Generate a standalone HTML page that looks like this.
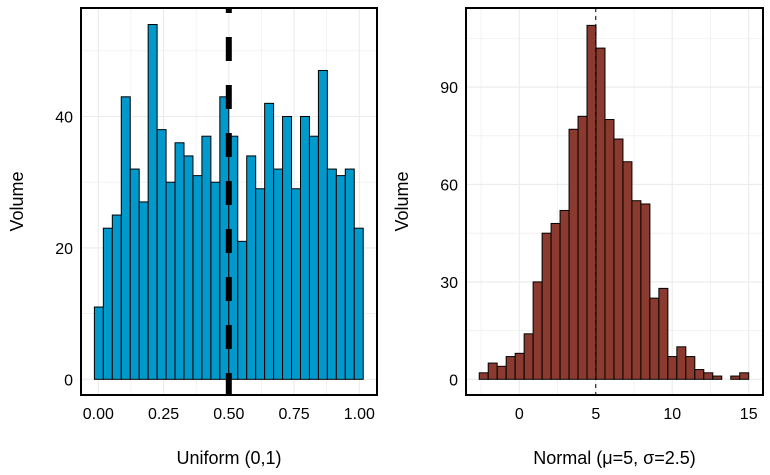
<!DOCTYPE html>
<html><head><meta charset="utf-8">
<style>
html,body{margin:0;padding:0;background:#fff;}
svg{display:block;font-family:"Liberation Sans",sans-serif;}
</style></head>
<body>
<svg id="c" width="770" height="475" viewBox="0 0 770 475"></svg>
<script>
const uniformCounts=[11,23,25,43,32,27,54,38,30,36,34,31,37,30,43,37,21,34,29,42,32,40,29,40,37,47,32,31,32,23];
const uniformRange=[-0.015,1.015];
const uniformXTicks=[0,0.25,0.5,0.75,1];
const uniformXLabels=["0.00","0.25","0.50","0.75","1.00"];
const uniformYTicks=[0,20,40];
const uniformMean=0.5;
const normalCounts=[2,5,4,7,8,14,30,45,48,52,77,81,109,102,80,74,67,55,54,25,28,7,10,7,3,2,1,0,1,2];
const normalRange=[-2.62,15.0];
const normalXTicks=[0,5,10,15];
const normalYTicks=[0,30,60,90];
const normalMean=5;

const NS="http://www.w3.org/2000/svg";
const svg=document.getElementById('c');
function el(tag,attrs,parent){const e=document.createElementNS(NS,tag);for(const k in attrs)e.setAttribute(k,attrs[k]);(parent||svg).appendChild(e);return e;}

function panel(o){
  const g=el('g',{});
  
  
  const xs=v=>o.x0px+(v-o.x0)/(o.x1-o.x0)*(o.x1px-o.x0px);
  const ys=v=>o.y0px-v*o.ypu;
  const minorX=[];for(let i=0;i<o.xTicks.length-1;i++)minorX.push((o.xTicks[i]+o.xTicks[i+1])/2);
  minorX.push(o.xTicks[0]-(o.xTicks[1]-o.xTicks[0])/2);
  minorX.push(o.xTicks[o.xTicks.length-1]+(o.xTicks[1]-o.xTicks[0])/2);
  const step=o.yTicks[1]-o.yTicks[0];
  const allY=[];for(let v=0;ys(v)>o.top;v+=step/2)allY.push(v);
  minorX.concat(o.xTicks).forEach(v=>{const x=xs(v);if(x>o.left&&x<o.right){const l=el('line',{x1:x,x2:x,y1:o.top,y2:o.bottom,stroke:'#ebebeb','stroke-width':minorX.includes(v)?0.6:1.1},g);}});
  allY.forEach(v=>{const y=ys(v);const l=el('line',{x1:o.left,x2:o.right,y1:y,y2:y,stroke:'#ebebeb','stroke-width':(v%step===0)?1.1:0.6},g);});
  const n=o.counts.length,bw=(o.range[1]-o.range[0])/n;
  o.counts.forEach((c,i)=>{
    const xa=xs(o.range[0]+i*bw),xb=xs(o.range[0]+(i+1)*bw);
    if(c<=0)return;
    const r=el('rect',{x:xa,y:ys(c),width:xb-xa,height:ys(0)-ys(c),fill:o.fill,stroke:'#000','stroke-width':1},g);
    
    
  });
  const mx=xs(o.mean);
  const ml=el('line',{x1:mx,x2:mx,y1:o.top,y2:o.bottom,stroke:'#000','stroke-width':o.meanW,'stroke-dasharray':o.dash,'stroke-dashoffset':o.dashOff},g);
  
  
  const fr=el('rect',{x:o.left,y:o.top,width:o.right-o.left,height:o.bottom-o.top,fill:'none',stroke:'#000','stroke-width':2},g);
  
  
  o.xTicks.forEach((v,i)=>{const t=el('text',{x:xs(v),y:419,'text-anchor':'middle','font-size':16,fill:'#000'},g);t.textContent=o.xLabels[i];});
  o.yTicks.forEach(v=>{const t=el('text',{x:o.left-8,y:ys(v)+6,'text-anchor':'end','font-size':16,fill:'#000'},g);t.textContent=String(v);});
  const xt=el('text',{x:(o.left+o.right)/2,y:464,'text-anchor':'middle','font-size':18,fill:'#000'},g);
  xt.textContent=o.xTitle;
  const yt=el('text',{x:0,y:0,'text-anchor':'middle','font-size':18,fill:'#000',transform:`translate(${o.left-58},${(o.top+o.bottom)/2}) rotate(-90)`},g);
  yt.textContent='Volume';
}

panel({name:'uniform',counts:uniformCounts,range:uniformRange,xTicks:uniformXTicks,xLabels:uniformXLabels,yTicks:uniformYTicks,mean:uniformMean,
  left:81,right:377,top:8,bottom:395,x0:0,x1:1,x0px:98.3,x1px:359.3,y0px:379.3,ypu:6.57,fill:'#0099cc',
  meanW:6,dash:'24 24',dashOff:19,xTitle:'Uniform (0,1)'});
panel({name:'normal',counts:normalCounts,range:normalRange,xTicks:normalXTicks,xLabels:normalXTicks.map(String),yTicks:normalYTicks,mean:normalMean,
  left:466,right:763,top:8,bottom:395,x0:0,x1:15,x0px:519.3,x1px:748.7,y0px:379.3,ypu:3.247,fill:'#8b3a2f',
  meanW:1,dash:'4 4',dashOff:0,xTitle:'Normal (\u03bc=5, \u03c3=2.5)'});
</script>
</body></html>
